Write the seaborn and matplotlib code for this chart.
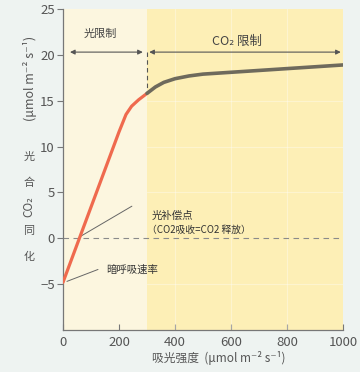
import matplotlib
matplotlib.use("Agg")
import matplotlib.pyplot as plt
import seaborn as sns
import pandas as pd

# data
light_lim_x = [0, 50, 100, 150, 200, 225, 245, 270, 300]
light_lim_y = [-4.8, -0.7, 3.4, 7.5, 11.6, 13.5, 14.4, 15.1, 15.8]
co2_lim_x = [300, 330, 360, 400, 450, 500, 600, 700, 800, 900, 1000]
co2_lim_y = [15.8, 16.5, 17.0, 17.4, 17.7, 17.9, 18.1, 18.3, 18.5, 18.7, 18.9]
x_ticks = [0, 200, 400, 600, 800, 1000]
y_ticks = [-5, 0, 5, 10, 15, 20, 25]

sns.set_style("white")
plt.rcParams['font.family'] = ['Noto Sans CJK SC', 'DejaVu Sans']

W, H = 360, 372
fig = plt.figure(figsize=(3.6, 3.72), dpi=100)
fig.patch.set_facecolor('#eef3f1')
ax = fig.add_axes([63 / W, 1 - 330 / H, 280 / W, 321 / H])
ax.set_facecolor('none')

ax.axvspan(0, 300, color='#fcf6df', zorder=0, lw=0)
ax.axvspan(300, 1000, color='#fdefb6', zorder=0, lw=0)
for gx in [400, 600, 800]:
    ax.axvline(gx, color='white', lw=0.8, alpha=0.35, zorder=1)
for gy in [-5, 5, 10, 15]:
    ax.axhline(gy, xmin=0.3, color='white', lw=0.8, alpha=0.35, zorder=1)

df1 = pd.DataFrame({'x': light_lim_x, 'y': light_lim_y})
df2 = pd.DataFrame({'x': co2_lim_x, 'y': co2_lim_y})
sns.lineplot(data=df1, x='x', y='y', ax=ax, color='#ef6a4e', lw=2.3, zorder=3)
sns.lineplot(data=df2, x='x', y='y', ax=ax, color='#6e6a5c', lw=2.6, zorder=3)

ax.axhline(0, color='#8a8a8a', lw=0.8, ls=(0, (5, 4)), zorder=2)
ax.plot([300, 300], [20.3, 15.9], color='#555555', lw=0.8, ls=(0, (4, 3)), zorder=2)

arrow_kw = dict(arrowstyle='<|-|>', color='#555555', lw=0.8,
                mutation_scale=7, shrinkA=0, shrinkB=0)
ax.annotate('', xy=(25, 20.3), xytext=(285, 20.3), arrowprops=arrow_kw)
ax.annotate('', xy=(308, 20.3), xytext=(992, 20.3), arrowprops=arrow_kw)
ax.text(135, 22.3, '光限制', ha='center', va='center', fontsize=8, color='#444444')
ax.text(620, 21.5, 'CO₂ 限制', ha='center', va='center', fontsize=9, color='#444444')

# leader lines
ax.plot([62, 246], [0.2, 3.5], color='#666666', lw=0.7)
ax.plot([14, 125], [-4.7, -3.4], color='#666666', lw=0.7)
ax.text(318, 2.4, '光补偿点', ha='left', va='center', fontsize=7.5, color='#333333')
ax.text(300, 0.9, '（CO2吸收=CO2 释放）', ha='left', va='center', fontsize=7, color='#333333')
ax.text(155, -3.4, '暗呼吸速率', ha='left', va='center', fontsize=7.5, color='#333333')

ax.set_xlim(0, 1000)
ax.set_ylim(-10, 25)
ax.set_xticks(x_ticks)
ax.set_yticks(y_ticks)
ax.set_xlabel('')
ax.set_ylabel('')
for s in ['top', 'right']:
    ax.spines[s].set_visible(False)
for s in ['left', 'bottom']:
    ax.spines[s].set_color('#777777')
    ax.spines[s].set_linewidth(0.9)
ax.tick_params(axis='y', direction='out', length=4, width=0.8, color='#777777',
               labelcolor='#555555', labelsize=9.5, pad=2)
ax.tick_params(axis='x', direction='in', length=4, width=0.8, color='#777777',
               labelcolor='#555555', labelsize=9.5, pad=4)
ax.tick_params(left=True, bottom=True)

def ft(px, py, s, **kw):
    fig.text(px / W, 1 - py / H, s, ha='center', va='center', color='#555555', **kw)

ft(30, 78, '(μmol m⁻² s⁻¹)', rotation=90, fontsize=9)
ft(29, 157, '光', fontsize=8)
ft(29, 183, '合', fontsize=8)
ft(29, 207, 'CO₂', rotation=90, fontsize=8.5)
ft(29, 231, '同', fontsize=8)
ft(29, 257, '化', fontsize=8)
ft(219, 358, '吸光强度  (μmol m⁻² s⁻¹)', fontsize=8.5)

fig.savefig('out.png', dpi=100, facecolor=fig.get_facecolor())
